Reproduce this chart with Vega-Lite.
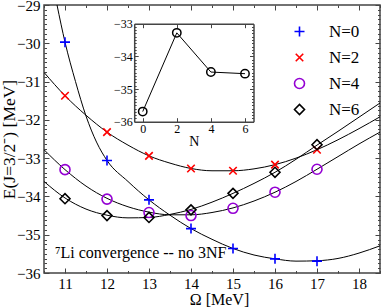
{
  "$schema": "https://vega.github.io/schema/vega-lite/v6.json",
  "width": 336,
  "height": 268,
  "autosize": {"type": "none"},
  "padding": {"left": 44, "top": 5, "right": 2, "bottom": 34},
  "config": {
    "font": "'Liberation Serif', 'Times New Roman', 'DejaVu Serif', serif",
    "text": {"font": "'Liberation Serif', 'Times New Roman', 'DejaVu Serif', serif"},
    "view": {"stroke": "#444", "strokeWidth": 1.5},
    "axis": {"grid": false, "domain": false, "tickColor": "#444", "labelColor": "#000", "titleColor": "#000", "titleFontWeight": "normal", "labelFont": "'Liberation Serif', 'Times New Roman', serif", "titleFont": "'Liberation Serif', 'Times New Roman', serif"},
    "legend": {"labelFont": "'Liberation Serif', 'Times New Roman', serif", "titleFont": "'Liberation Serif', 'Times New Roman', serif"}
  },
  "datasets": {
    "pts": [
      {"N": "N=0", "omega": 11, "E": -29.97}, {"N": "N=0", "omega": 12, "E": -33.06}, {"N": "N=0", "omega": 13, "E": -34.09}, {"N": "N=0", "omega": 14, "E": -34.84}, {"N": "N=0", "omega": 15, "E": -35.36}, {"N": "N=0", "omega": 16, "E": -35.63}, {"N": "N=0", "omega": 17, "E": -35.69},
      {"N": "N=2", "omega": 11, "E": -31.37}, {"N": "N=2", "omega": 12, "E": -32.32}, {"N": "N=2", "omega": 13, "E": -32.94}, {"N": "N=2", "omega": 14, "E": -33.27}, {"N": "N=2", "omega": 15, "E": -33.33}, {"N": "N=2", "omega": 16, "E": -33.17}, {"N": "N=2", "omega": 17, "E": -32.78},
      {"N": "N=4", "omega": 11, "E": -33.30}, {"N": "N=4", "omega": 12, "E": -34.07}, {"N": "N=4", "omega": 13, "E": -34.42}, {"N": "N=4", "omega": 14, "E": -34.50}, {"N": "N=4", "omega": 15, "E": -34.31}, {"N": "N=4", "omega": 16, "E": -33.89}, {"N": "N=4", "omega": 17, "E": -33.29},
      {"N": "N=6", "omega": 11, "E": -34.06}, {"N": "N=6", "omega": 12, "E": -34.50}, {"N": "N=6", "omega": 13, "E": -34.55}, {"N": "N=6", "omega": 14, "E": -34.35}, {"N": "N=6", "omega": 15, "E": -33.92}, {"N": "N=6", "omega": 16, "E": -33.37}, {"N": "N=6", "omega": 17, "E": -32.65}
    ],
    "curves": [
      {"s": "N=0", "omega": 10.81, "E": -29.0}, {"s": "N=0", "omega": 11, "E": -29.97}, {"s": "N=0", "omega": 11.25, "E": -31.0}, {"s": "N=0", "omega": 11.5, "E": -31.9}, {"s": "N=0", "omega": 11.75, "E": -32.58}, {"s": "N=0", "omega": 12, "E": -33.06}, {"s": "N=0", "omega": 12.5, "E": -33.61}, {"s": "N=0", "omega": 13, "E": -34.09}, {"s": "N=0", "omega": 13.5, "E": -34.49}, {"s": "N=0", "omega": 14, "E": -34.84}, {"s": "N=0", "omega": 14.5, "E": -35.12}, {"s": "N=0", "omega": 15, "E": -35.36}, {"s": "N=0", "omega": 15.5, "E": -35.53}, {"s": "N=0", "omega": 16, "E": -35.63}, {"s": "N=0", "omega": 16.5, "E": -35.69}, {"s": "N=0", "omega": 17, "E": -35.68}, {"s": "N=0", "omega": 17.5, "E": -35.62}, {"s": "N=0", "omega": 18, "E": -35.48}, {"s": "N=0", "omega": 18.5, "E": -35.29},
      {"s": "N=2", "omega": 10.5, "E": -30.76}, {"s": "N=2", "omega": 11, "E": -31.37}, {"s": "N=2", "omega": 11.5, "E": -31.88}, {"s": "N=2", "omega": 12, "E": -32.32}, {"s": "N=2", "omega": 12.5, "E": -32.66}, {"s": "N=2", "omega": 13, "E": -32.94}, {"s": "N=2", "omega": 13.5, "E": -33.13}, {"s": "N=2", "omega": 14, "E": -33.27}, {"s": "N=2", "omega": 14.5, "E": -33.33}, {"s": "N=2", "omega": 15, "E": -33.33}, {"s": "N=2", "omega": 15.5, "E": -33.28}, {"s": "N=2", "omega": 16, "E": -33.17}, {"s": "N=2", "omega": 16.5, "E": -33.0}, {"s": "N=2", "omega": 17, "E": -32.78}, {"s": "N=2", "omega": 17.5, "E": -32.52}, {"s": "N=2", "omega": 18, "E": -32.23}, {"s": "N=2", "omega": 18.5, "E": -31.92},
      {"s": "N=4", "omega": 10.5, "E": -32.78}, {"s": "N=4", "omega": 11, "E": -33.30}, {"s": "N=4", "omega": 11.5, "E": -33.73}, {"s": "N=4", "omega": 12, "E": -34.05}, {"s": "N=4", "omega": 12.5, "E": -34.27}, {"s": "N=4", "omega": 13, "E": -34.41}, {"s": "N=4", "omega": 13.5, "E": -34.48}, {"s": "N=4", "omega": 14, "E": -34.48}, {"s": "N=4", "omega": 14.5, "E": -34.42}, {"s": "N=4", "omega": 15, "E": -34.30}, {"s": "N=4", "omega": 15.5, "E": -34.12}, {"s": "N=4", "omega": 16, "E": -33.89}, {"s": "N=4", "omega": 16.5, "E": -33.61}, {"s": "N=4", "omega": 17, "E": -33.29}, {"s": "N=4", "omega": 17.5, "E": -32.96}, {"s": "N=4", "omega": 18, "E": -32.63}, {"s": "N=4", "omega": 18.5, "E": -32.32},
      {"s": "N=6", "omega": 10.5, "E": -33.61}, {"s": "N=6", "omega": 11, "E": -34.04}, {"s": "N=6", "omega": 11.5, "E": -34.33}, {"s": "N=6", "omega": 12, "E": -34.49}, {"s": "N=6", "omega": 12.5, "E": -34.56}, {"s": "N=6", "omega": 13, "E": -34.55}, {"s": "N=6", "omega": 13.5, "E": -34.47}, {"s": "N=6", "omega": 14, "E": -34.34}, {"s": "N=6", "omega": 14.5, "E": -34.15}, {"s": "N=6", "omega": 15, "E": -33.92}, {"s": "N=6", "omega": 15.5, "E": -33.66}, {"s": "N=6", "omega": 16, "E": -33.37}, {"s": "N=6", "omega": 16.5, "E": -33.03}, {"s": "N=6", "omega": 17, "E": -32.66}, {"s": "N=6", "omega": 17.5, "E": -32.3}, {"s": "N=6", "omega": 18, "E": -31.93}, {"s": "N=6", "omega": 18.5, "E": -31.56}
    ],
    "inset": [
      {"N": 0, "E": -35.69}, {"N": 2, "E": -33.28}, {"N": 4, "E": -34.48}, {"N": 6, "E": -34.53}
    ],
    "note": [
      {"label": "⁷Li convergence -- no 3NF"}
    ]
  },
  "layer": [
    {
      "resolve": {"axis": {"x": "independent", "y": "independent"}},
      "layer": [
        {
          "data": {"name": "curves"},
          "mark": {"type": "line", "color": "#000", "strokeWidth": 1, "interpolate": "monotone", "clip": true},
          "encoding": {
            "x": {"field": "omega", "type": "quantitative", "scale": {"domain": [10.5, 18.5], "nice": false, "zero": false},
              "axis": {"orient": "bottom", "values": [11, 12, 13, 14, 15, 16, 17, 18], "tickSize": -5, "labelPadding": 8, "labelFontSize": 15, "title": "Ω [MeV]", "titleFontSize": 16, "titlePadding": 0, "titleX": 175}},
            "y": {"field": "E", "type": "quantitative", "scale": {"domain": [-36, -29], "nice": false, "zero": false},
              "axis": {"orient": "left", "values": [-36, -35, -34, -33, -32, -31, -30, -29], "tickSize": -5, "labelPadding": 9, "labelFontSize": 15, "title": "E(J=3/2⁻) [MeV]", "titleFontSize": 17.5, "titleX": -26, "titleBaseline": "bottom"}},
            "detail": {"field": "s"}
          }
        },
        {
          "data": {"name": "pts"},
          "mark": {"type": "point", "filled": false, "size": 100, "strokeWidth": 1.6, "opacity": 1},
          "encoding": {
            "x": {"field": "omega", "type": "quantitative", "axis": {"orient": "top", "values": [11, 12, 13, 14, 15, 16, 17, 18], "tickSize": -5, "labels": false, "title": null}},
            "y": {"field": "E", "type": "quantitative", "axis": {"orient": "right", "values": [-36, -35, -34, -33, -32, -31, -30, -29], "tickSize": -5, "labels": false, "title": null}},
            "color": {"field": "N", "type": "nominal", "scale": {"domain": ["N=0", "N=2", "N=4", "N=6"], "range": ["#0000ff", "#ff0000", "#9400d3", "#000000"]},
              "legend": {"title": null, "orient": "none", "legendX": 247, "legendY": 18, "padding": 0, "labelFontSize": 17, "labelOffset": 21, "rowPadding": 8, "symbolStrokeWidth": 1.6, "symbolSize": 100, "labelColor": "#000"}},
            "shape": {"field": "N", "type": "nominal", "scale": {"domain": ["N=0", "N=2", "N=4", "N=6"], "range": ["M-1,0L1,0M0,-1L0,1", "M-0.75,-0.75L0.75,0.75M-0.75,0.75L0.75,-0.75", "circle", "diamond"]}}
          }
        },
        {
          "data": {"name": "pts"},
          "mark": {"type": "point", "opacity": 0},
          "encoding": {
            "x": {"field": "omega", "type": "quantitative", "axis": {"orient": "bottom", "values": [10.5, 11.5, 12.5, 13.5, 14.5, 15.5, 16.5, 17.5, 18.5], "tickSize": -2.5, "labels": false, "title": null}},
            "y": {"field": "E", "type": "quantitative", "axis": {"orient": "left", "values": [-35.875, -35.75, -35.625, -35.5, -35.375, -35.25, -35.125, -34.875, -34.75, -34.625, -34.5, -34.375, -34.25, -34.125, -33.875, -33.75, -33.625, -33.5, -33.375, -33.25, -33.125, -32.875, -32.75, -32.625, -32.5, -32.375, -32.25, -32.125, -31.875, -31.75, -31.625, -31.5, -31.375, -31.25, -31.125, -30.875, -30.75, -30.625, -30.5, -30.375, -30.25, -30.125, -29.875, -29.75, -29.625, -29.5, -29.375, -29.25, -29.125], "tickSize": -2.5, "labels": false, "title": null}}
          }
        },
        {
          "data": {"name": "pts"},
          "mark": {"type": "point", "opacity": 0},
          "encoding": {
            "x": {"field": "omega", "type": "quantitative", "axis": {"orient": "top", "values": [10.5, 11.5, 12.5, 13.5, 14.5, 15.5, 16.5, 17.5, 18.5], "tickSize": -2.5, "labels": false, "title": null}},
            "y": {"field": "E", "type": "quantitative", "axis": {"orient": "right", "values": [-35.875, -35.75, -35.625, -35.5, -35.375, -35.25, -35.125, -34.875, -34.75, -34.625, -34.5, -34.375, -34.25, -34.125, -33.875, -33.75, -33.625, -33.5, -33.375, -33.25, -33.125, -32.875, -32.75, -32.625, -32.5, -32.375, -32.25, -32.125, -31.875, -31.75, -31.625, -31.5, -31.375, -31.25, -31.125, -30.875, -30.75, -30.625, -30.5, -30.375, -30.25, -30.125, -29.875, -29.75, -29.625, -29.5, -29.375, -29.25, -29.125], "tickSize": -2.5, "labels": false, "title": null}}
          }
        },
        {
          "data": {"name": "note"},
          "mark": {"type": "text", "align": "left", "baseline": "alphabetic", "fontSize": 16, "color": "#000"},
          "encoding": {
            "x": {"datum": 10.76, "type": "quantitative", "axis": null},
            "y": {"datum": -35.62, "type": "quantitative", "axis": null},
            "text": {"field": "label"}
          }
        }
      ]
    },
    {
      "data": {"name": "inset"},
      "resolve": {"axis": {"x": "independent", "y": "independent"}},
      "layer": [
        {
          "mark": {"type": "line", "color": "#000", "strokeWidth": 1},
          "encoding": {
            "x": {"field": "N", "type": "quantitative", "scale": {"domain": [-0.5, 6.5], "range": [90.2, 209.5], "nice": false, "zero": false},
              "axis": {"orient": "bottom", "offset": -151.3, "values": [0, 2, 4, 6], "tickSize": -4, "labelPadding": 6, "labelFontSize": 12, "domain": true, "domainColor": "#444", "domainWidth": 1.5, "title": "N", "titleFontSize": 14, "titlePadding": 0}},
            "y": {"field": "E", "type": "quantitative", "scale": {"domain": [-36, -33], "range": [116.7, 18.7], "nice": false, "zero": false},
              "axis": {"orient": "left", "offset": -90.2, "values": [-36, -35, -34, -33], "tickSize": -4, "labelPadding": 6, "labelFontSize": 12, "domain": true, "domainColor": "#444", "domainWidth": 1.5, "title": null}}
          }
        },
        {
          "mark": {"type": "point", "filled": false, "color": "#000", "size": 70, "strokeWidth": 1.5, "opacity": 1},
          "encoding": {
            "x": {"field": "N", "type": "quantitative", "axis": {"orient": "top", "offset": -18.7, "values": [0, 2, 4, 6], "tickSize": -4, "labels": false, "domain": true, "domainColor": "#444", "domainWidth": 1.5, "title": null}},
            "y": {"field": "E", "type": "quantitative", "axis": {"orient": "right", "offset": -126.5, "values": [-36, -35, -34, -33], "tickSize": -4, "labels": false, "domain": true, "domainColor": "#444", "domainWidth": 1.5, "title": null}}
          }
        },
        {
          "mark": {"type": "point", "opacity": 0},
          "encoding": {
            "x": {"field": "N", "type": "quantitative", "axis": null},
            "y": {"field": "E", "type": "quantitative", "axis": {"orient": "left", "offset": -90.2, "values": [-35.9, -35.8, -35.7, -35.6, -35.5, -35.4, -35.3, -35.2, -35.1, -34.9, -34.8, -34.7, -34.6, -34.5, -34.4, -34.3, -34.2, -34.1, -33.9, -33.8, -33.7, -33.6, -33.5, -33.4, -33.3, -33.2, -33.1], "tickSize": -2, "labels": false, "title": null}}
          }
        },
        {
          "mark": {"type": "point", "opacity": 0},
          "encoding": {
            "x": {"field": "N", "type": "quantitative", "axis": null},
            "y": {"field": "E", "type": "quantitative", "axis": {"orient": "right", "offset": -126.5, "values": [-35.9, -35.8, -35.7, -35.6, -35.5, -35.4, -35.3, -35.2, -35.1, -34.9, -34.8, -34.7, -34.6, -34.5, -34.4, -34.3, -34.2, -34.1, -33.9, -33.8, -33.7, -33.6, -33.5, -33.4, -33.3, -33.2, -33.1], "tickSize": -2, "labels": false, "title": null}}
          }
        }
      ]
    }
  ],
  "resolve": {"scale": {"x": "independent", "y": "independent"}, "axis": {"x": "independent", "y": "independent"}}
}
